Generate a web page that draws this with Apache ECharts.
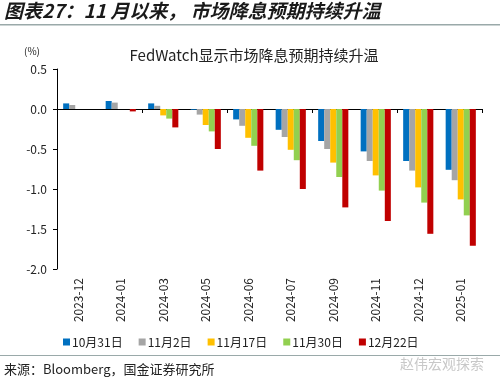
<!DOCTYPE html>
<html><head><meta charset="utf-8">
<script src="https://cdn.jsdelivr.net/npm/echarts@6/dist/echarts.min.js"></script>
<style>html,body{margin:0;padding:0;background:#fff}#c{width:500px;height:385px}</style>
</head><body><div id="c"></div>
<script>
const categories = ['2023-12','2024-01','2024-03','2024-05','2024-06','2024-07','2024-09','2024-11','2024-12','2025-01'];
const seriesNames = ['10月31日','11月2日','11月17日','11月30日','12月22日'];
const oct31 = [0.07, 0.10, 0.07, -0.01, -0.13, -0.26, -0.40, -0.53, -0.65, -0.76];
const nov2  = [0.05, 0.08, 0.04, -0.07, -0.21, -0.35, -0.50, -0.65, -0.77, -0.89];
const nov17 = [0.00, 0.00, -0.08, -0.20, -0.36, -0.51, -0.67, -0.83, -0.98, -1.13];
const nov30 = [0.00, 0.00, -0.12, -0.28, -0.46, -0.64, -0.85, -1.02, -1.17, -1.33];
const dec22 = [0.00, -0.03, -0.23, -0.50, -0.77, -1.00, -1.23, -1.40, -1.56, -1.71];
const yTicks = [-2.0, -1.5, -1.0, -0.5, 0.0, 0.5];
const colors = ['#0070C0','#A5A5A5','#FFC000','#92D050','#C00000'];
const allData = [oct31, nov2, nov17, nov30, dec22];

const chart = echarts.init(document.getElementById('c'));
const font = '"Noto Sans CJK SC", "DejaVu Sans", sans-serif';
chart.setOption({
  animation: false,
  textStyle: {fontFamily: font},
  grid: {left: 57, right: 18, top: 69, bottom: 116},
  title: {
    text: 'FedWatch显示市场降息预期持续升温',
    left: 249, textAlign: 'center', top: 43,
    textStyle: {fontSize: 15, fontWeight: 'normal', color: '#222', fontFamily: font}
  },
  legend: {
    data: seriesNames, left: 58, top: 331, itemWidth: 7, itemHeight: 7, itemGap: 16,
    icon: 'rect', textStyle: {fontSize: 12, color: '#222', padding: [0,0,0,-3]}
  },
  xAxis: [{
    type: 'category', data: categories,
    axisLine: {onZero: true, lineStyle: {color: '#000', width: 1}},
    axisTick: {show: true, inside: false, length: 4, lineStyle: {color: '#000'}},
    axisLabel: {show: false}
  }, {
    type: 'category', data: categories, position: 'bottom',
    axisLine: {show: false}, axisTick: {show: false},
    axisLabel: {rotate: 90, fontSize: 12, color: '#222', margin: 9, interval: 0}
  }],
  yAxis: {
    type: 'value', min: -2, max: 0.5, interval: 0.5,
    axisLine: {show: true, lineStyle: {color: '#000'}},
    axisTick: {show: true, length: 4, lineStyle: {color: '#000'}},
    splitLine: {show: false},
    axisLabel: {fontSize: 12, color: '#222', margin: 10, formatter: v => v.toFixed(1)}
  },
  series: seriesNames.map((n, i) => ({
    name: n, type: 'bar', data: allData[i], xAxisIndex: 0,
    barGap: '0%', barCategoryGap: '29%',
    itemStyle: {color: colors[i]}
  })),
  graphic: [
    {type: 'text', left: 4, top: 1, style: {text: '图表27：11 月以来， 市场降息预期持续升温', fontSize: 19, fontStyle: 'italic', fontWeight: 'bold', fill: '#1a1a1a', fontFamily: font}},
    {type: 'rect', shape: {x: 0, y: 24, width: 500, height: 1.5}, style: {fill: '#9aa9a9'}},
    {type: 'text', left: 24, top: 46, style: {text: '(%)', fontSize: 10, fill: '#222', fontFamily: font}},
    {type: 'rect', shape: {x: 0, y: 355, width: 500, height: 1}, style: {fill: '#9aa9a9'}},
    {type: 'text', left: 4, top: 363, style: {text: '来源：Bloomberg，国金证券研究所', fontSize: 13, fill: '#222', fontFamily: font}},
    {type: 'text', left: 400, top: 357, style: {text: '赵伟宏观探索', fontSize: 14, fill: '#c8c8c8', fontFamily: font}}
  ]
});
</script></body></html>
